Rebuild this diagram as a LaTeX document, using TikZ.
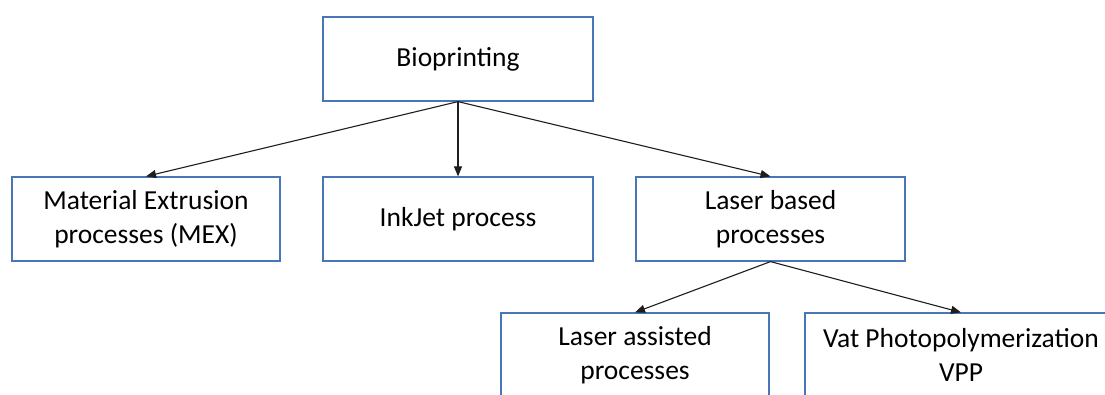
\documentclass[tikz,border=0pt]{standalone}
\usepackage{fontspec}
\setmainfont{Carlito}
\usetikzlibrary{arrows.meta}
\definecolor{boxblue}{RGB}{72,118,184}
\definecolor{arrowgray}{RGB}{30,30,30}
\tikzset{
  procbox/.style={draw=boxblue, line width=1.2pt, fill=white,
    minimum width=269pt, minimum height=84pt, inner sep=0pt,
    align=center, font=\fontsize{27.5}{34}\selectfont},
  link/.style={draw=arrowgray, line width=1.1pt,
    -{Triangle[length=10pt,width=8pt]}}
}
\begin{document}
\begin{tikzpicture}[x=1pt, y=-1pt]
  \useasboundingbox (0,0) rectangle (1105,394);
  \fill[white] (0,0) rectangle (1105,394);

  % top level
  \node[procbox, minimum width=270pt] (bio) at (458,59) {Bioprinting};

  % second level
  \node[procbox, minimum width=268pt] (mex) at (146,219) {Material Extrusion\\processes (MEX)};
  \node[procbox, minimum width=270pt] (ink) at (458,219) {InkJet process};
  \node[procbox] (laser) at (770.5,219) {Laser based\\processes};

  % third level
  \node[procbox, minimum width=268pt] (lap) at (635,355) {Laser assisted\\processes};
  \node[procbox, minimum width=312pt] (vpp) at (961,355) {Vat Photopolymerization\\VPP};

  % connectors
  \draw[link] (bio.south) -- (mex.north);
  \draw[link] (bio.south) -- (ink.north);
  \draw[link] (bio.south) -- (laser.north);
  \draw[link] (laser.south) -- (lap.north);
  \draw[link] (laser.south) -- (vpp.north);
\end{tikzpicture}
\end{document}
